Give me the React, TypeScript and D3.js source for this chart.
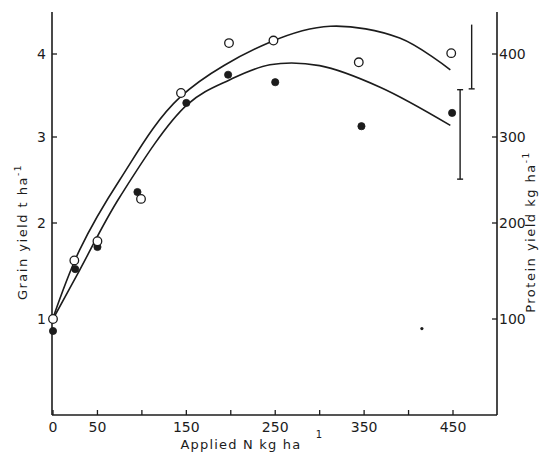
import React, { useEffect, useRef } from 'react'
import * as d3 from 'd3'

// applied N (kg/ha) and grain yield (t/ha)
const openN = [0, 24, 50, 99, 144, 198, 248, 344, 448]
const openY = [1.0, 1.61, 1.81, 2.28, 3.53, 4.13, 4.16, 3.9, 4.01]
const filledN = [0, 25, 50, 95, 150, 197, 250, 347, 449]
const filledY = [0.875, 1.52, 1.75, 2.36, 3.41, 3.75, 3.66, 3.13, 3.29]

// fitted response curves, sampled along the drawn lines
const upperN = [0, 30, 75, 143, 244, 312, 390, 447]
const upperY = [1.01, 1.72, 2.5, 3.48, 4.14, 4.33, 4.19, 3.81]
const lowerN = [0, 30, 75, 151, 199, 244, 300, 368, 447]
const lowerY = [1.0, 1.51, 2.3, 3.39, 3.69, 3.87, 3.86, 3.6, 3.14]

// LSD bars (on the grain scale)
const errN = [471, 458]
const errLo = [3.58, 2.51]
const errHi = [4.35, 3.57]
const errCaps = ['bottom', 'both']

// speck in the scan
const speckN = [415]
const speckY = [0.9]

const xTicks = [0, 50, 100, 150, 200, 250, 300, 350, 400, 450]
const xTickLabels = ['0', '50', '', '150', '', '250', '', '350', '', '450']
const grainTicks = [1, 2, 3, 4]
const proteinTicks = [100, 200, 300, 400]

const INK = '#1c1c1c'
const FONT = '"DejaVu Sans", sans-serif'

function App () {
  const ref = useRef(null)

  useEffect(() => {
    const svg = d3.select(ref.current)
    svg.selectAll('*').remove()

    const x = d3.scaleLinear().domain([0, 450]).range([53, 453])
    // the printed axis is not quite even, so follow the tick positions
    const y = d3.scaleLinear().domain([0, 1, 2, 3, 4, 4.5]).range([415, 319, 223, 137, 54, 12])
    const yr = d3.scaleLinear().domain([0, 100, 200, 300, 400, 450]).range([415, 319, 223, 137, 54, 12])

    const g = svg.append('g')

    // axes
    g.append('line').attr('x1', 52).attr('x2', 52).attr('y1', 12).attr('y2', 415)
      .attr('stroke', INK).attr('stroke-width', 1.6)
    g.append('line').attr('x1', 497).attr('x2', 497).attr('y1', 12).attr('y2', 415)
      .attr('stroke', INK).attr('stroke-width', 1.6)
    g.append('line').attr('x1', 52).attr('x2', 497).attr('y1', 415).attr('y2', 415)
      .attr('stroke', INK).attr('stroke-width', 1.6)

    g.selectAll('.xt').data(xTicks).enter().append('line')
      .attr('x1', d => x(d)).attr('x2', d => x(d)).attr('y1', 415).attr('y2', 410)
      .attr('stroke', INK).attr('stroke-width', 1.3)
    g.selectAll('.xl').data(xTicks).enter().append('text')
      .attr('x', d => x(d)).attr('y', 432).attr('text-anchor', 'middle')
      .attr('font-size', 14).attr('font-family', FONT).attr('fill', INK)
      .text((d, i) => xTickLabels[i])

    g.selectAll('.yt').data(grainTicks).enter().append('line')
      .attr('x1', 52).attr('x2', 57).attr('y1', d => y(d)).attr('y2', d => y(d))
      .attr('stroke', INK).attr('stroke-width', 1.3)
    g.selectAll('.yl').data(grainTicks).enter().append('text')
      .attr('x', 46).attr('y', d => y(d) + 5).attr('text-anchor', 'end')
      .attr('font-size', 14).attr('font-family', FONT).attr('fill', INK)
      .text(d => d)

    g.selectAll('.rt').data(proteinTicks).enter().append('line')
      .attr('x1', 492).attr('x2', 497).attr('y1', d => yr(d)).attr('y2', d => yr(d))
      .attr('stroke', INK).attr('stroke-width', 1.3)
    g.selectAll('.rl').data(proteinTicks).enter().append('text')
      .attr('x', 499).attr('y', d => yr(d) + 5)
      .attr('font-size', 14).attr('font-family', FONT).attr('fill', INK)
      .text(d => d)

    // axis titles
    g.append('text')
      .attr('transform', 'translate(27,232) rotate(-90)')
      .attr('text-anchor', 'middle').attr('font-size', 13).attr('letter-spacing', 1.5)
      .attr('font-family', FONT).attr('fill', INK)
      .html('Grain yield t ha<tspan dy="-6" font-size="9">-1</tspan>')
    g.append('text')
      .attr('transform', 'translate(535,232) rotate(-90)')
      .attr('text-anchor', 'middle').attr('font-size', 13).attr('letter-spacing', 1.5)
      .attr('font-family', FONT).attr('fill', INK)
      .html('Protein yield kg ha<tspan dy="-6" font-size="9">-1</tspan>')
    g.append('text')
      .attr('x', 241).attr('y', 449).attr('text-anchor', 'middle')
      .attr('font-size', 13).attr('letter-spacing', 1.2)
      .attr('font-family', FONT).attr('fill', INK)
      .text('Applied N kg ha')
    g.append('text')
      .attr('x', 319).attr('y', 438).attr('text-anchor', 'middle')
      .attr('font-size', 10).attr('font-family', FONT).attr('fill', INK)
      .text('1')

    // curves
    const line = d3.line().curve(d3.curveCatmullRom.alpha(0.5))
    g.append('path')
      .attr('d', line(upperN.map((n, i) => [x(n), y(upperY[i])])))
      .attr('fill', 'none').attr('stroke', INK).attr('stroke-width', 1.6)
    g.append('path')
      .attr('d', line(lowerN.map((n, i) => [x(n), y(lowerY[i])])))
      .attr('fill', 'none').attr('stroke', INK).attr('stroke-width', 1.6)

    // LSD bars
    errN.forEach((n, i) => {
      const cx = x(n)
      g.append('line').attr('x1', cx).attr('x2', cx).attr('y1', y(errHi[i])).attr('y2', y(errLo[i]))
        .attr('stroke', INK).attr('stroke-width', 1.4)
      g.append('line').attr('x1', cx - 3).attr('x2', cx + 3).attr('y1', y(errLo[i])).attr('y2', y(errLo[i]))
        .attr('stroke', INK).attr('stroke-width', 1.4)
      if (errCaps[i] === 'both') {
        g.append('line').attr('x1', cx - 3).attr('x2', cx + 3).attr('y1', y(errHi[i])).attr('y2', y(errHi[i]))
          .attr('stroke', INK).attr('stroke-width', 1.4)
      }
    })

    // points
    g.selectAll('.filled').data(filledN).enter().append('circle')
      .attr('cx', d => x(d)).attr('cy', (d, i) => y(filledY[i])).attr('r', 3.6)
      .attr('fill', INK).attr('stroke', INK).attr('stroke-width', 0.8)
    g.selectAll('.open').data(openN).enter().append('circle')
      .attr('cx', d => x(d)).attr('cy', (d, i) => y(openY[i])).attr('r', 4.3)
      .attr('fill', 'white').attr('stroke', INK).attr('stroke-width', 1.3)
    g.selectAll('.speck').data(speckN).enter().append('circle')
      .attr('cx', d => x(d)).attr('cy', (d, i) => y(speckY[i])).attr('r', 1.6)
      .attr('fill', INK)
  }, [])

  return (
    <svg
      ref={ref}
      width={545}
      height={454}
      style={{ position: 'absolute', left: 0, top: 0, background: 'white' }}
    />
  )
}

export default App
